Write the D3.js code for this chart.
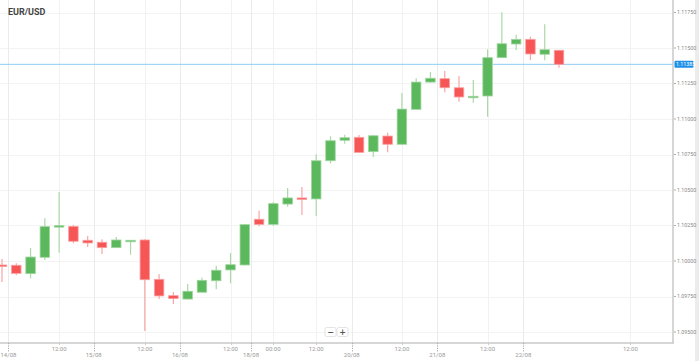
<!DOCTYPE html>
<html><head><meta charset="utf-8">
<script src="https://cdn.jsdelivr.net/npm/d3@7"></script>
<style>html,body{margin:0;padding:0;background:#fff;}svg{display:block;}</style>
</head><body>
<svg id="chart" width="699" height="361"></svg>
<script>
const title = "EUR/USD";
const candleIndex = d3.range(40);
const opens  = [1.09972,1.09970,1.09911,1.10026,1.10239,1.10244,1.10146,1.10132,1.10094,1.10141,
                1.10148,1.09871,1.09756,1.09732,1.09780,1.09861,1.09937,1.09972,1.10294,1.10258,
                1.10401,1.10444,1.10437,1.10706,1.10850,1.10871,1.10770,1.10880,1.10822,1.11068,
                1.11260,1.11284,1.11220,1.11156,1.11162,1.11432,1.11528,1.11561,1.11456,1.11484];
const closes = [1.09968,1.09913,1.10028,1.10242,1.10249,1.10139,1.10127,1.10094,1.10148,1.10146,
                1.09868,1.09754,1.09735,1.09787,1.09864,1.09935,1.09974,1.10256,1.10258,1.10404,
                1.10444,1.10433,1.10706,1.10847,1.10868,1.10765,1.10882,1.10822,1.11070,1.11260,
                1.11287,1.11220,1.11155,1.11160,1.11432,1.11530,1.11561,1.11458,1.11488,1.11385];
const highs  = [1.10014,1.09984,1.10092,1.10301,1.10486,1.10254,1.10176,1.10153,1.10169,1.10148,
                1.10153,1.09906,1.09782,1.09838,1.09882,1.09967,1.10056,1.10261,1.10354,1.10415,
                1.10514,1.10521,1.10751,1.10878,1.10889,1.10887,1.10887,1.10903,1.11183,1.11287,
                1.11331,1.11338,1.11303,1.11275,1.11491,1.11751,1.11594,1.11580,1.11667,1.11486];
const lows   = [1.09852,1.09899,1.09878,1.10007,1.10058,1.10125,1.10099,1.10049,1.10092,1.10044,
                1.09507,1.09732,1.09697,1.09729,1.09779,1.09801,1.09843,1.09968,1.10244,1.10249,
                1.10382,1.10324,1.10317,1.10688,1.10826,1.10761,1.10732,1.10765,1.10820,1.11067,
                1.11256,1.11188,1.11122,1.11115,1.11016,1.11430,1.11486,1.11415,1.11413,1.11361];
const yTicks = [1.09500,1.09750,1.10000,1.10250,1.10500,1.10750,1.11000,1.11250,1.11500,1.11750];
const dateTickPos    = [0.45, 6.42, 12.46, 17.44, 24.49, 30.48, 36.5];
const dateTickLabels = ["14/08","15/08","16/08","18/08","20/08","21/08","22/08"];
const timeTickPos    = [4, 10, 16, 18.98, 22, 28, 34, 44];
const timeTickLabels = ["12:00","12:00","12:00","00:00","12:00","12:00","12:00","12:00"];
const lastPrice = closes[closes.length - 1];

const svg = d3.select("#chart");
const plotRight = 673, plotBottom = 343;
const x = d3.scaleLinear().domain([0, 39]).range([2, 559]);
const y = d3.scaleLinear().domain([1.095, 1.1175]).range([332, 12.5]);

// right edge strip
svg.append("rect").attr("x", 695).attr("y", 0).attr("width", 4).attr("height", 361).attr("fill", "#ececec");

const grid = svg.append("g");
// horizontal gridlines
grid.selectAll("line.h").data(yTicks).join("line")
  .attr("x1", 0).attr("x2", plotRight)
  .attr("y1", d => Math.round(y(d)) + 0.5).attr("y2", d => Math.round(y(d)) + 0.5)
  .attr("stroke", "#f3f3f3").attr("stroke-width", 1);
// vertical gridlines
grid.selectAll("line.t").data(timeTickPos).join("line")
  .attr("x1", d => Math.round(x(d)) + 0.5).attr("x2", d => Math.round(x(d)) + 0.5)
  .attr("y1", 0).attr("y2", plotBottom)
  .attr("stroke", "#f2f2f2").attr("stroke-width", 1);
grid.selectAll("line.d").data(dateTickPos).join("line")
  .attr("x1", d => Math.round(x(d)) + 0.5).attr("x2", d => Math.round(x(d)) + 0.5)
  .attr("y1", 0).attr("y2", plotBottom)
  .attr("stroke", "#ebebeb").attr("stroke-width", 1);

// price line
svg.append("line").attr("x1", 0).attr("x2", plotRight)
  .attr("y1", y(lastPrice)).attr("y2", y(lastPrice))
  .attr("stroke", "#8dcdf3").attr("stroke-width", 1);

// candles
const green = "#5cb85c", red = "#f75656";
const cg = svg.append("g");
const candles = candleIndex.map(i => ({i, o: opens[i], c: closes[i], h: highs[i], l: lows[i]}));
cg.selectAll("line.wick").data(candles).join("line")
  .attr("x1", d => x(d.i)).attr("x2", d => x(d.i))
  .attr("y1", d => y(d.h)).attr("y2", d => y(d.l))
  .attr("stroke", d => d.c >= d.o ? "#a9d9a9" : "#f8a5a5").attr("stroke-width", 1.2);
const bw = 9.5;
cg.selectAll("rect.body").data(candles).join("rect")
  .attr("x", d => x(d.i) - bw / 2)
  .attr("y", d => y(Math.max(d.o, d.c)))
  .attr("width", bw)
  .attr("height", d => Math.max(1.5, Math.abs(y(d.o) - y(d.c))))
  .attr("fill", d => d.c >= d.o ? green : red)
  .attr("stroke", d => d.c >= d.o ? "#9fd69f" : "#fba0a0").attr("stroke-width", 0.8);

// axes lines
svg.append("line").attr("x1", 0).attr("x2", plotRight + 1).attr("y1", plotBottom).attr("y2", plotBottom)
  .attr("stroke", "#c8c8c8").attr("stroke-width", 1.5);
svg.append("line").attr("x1", plotRight).attr("x2", plotRight).attr("y1", 0).attr("y2", plotBottom)
  .attr("stroke", "#c8c8c8").attr("stroke-width", 1.5);

// right axis labels
const ya = svg.append("g");
ya.selectAll("line").data(yTicks).join("line")
  .attr("x1", plotRight + 1).attr("x2", plotRight + 3)
  .attr("y1", d => y(d)).attr("y2", d => y(d)).attr("stroke", "#999").attr("stroke-width", 0.8);
ya.selectAll("text").data(yTicks).join("text")
  .attr("x", plotRight + 4).attr("y", d => y(d)).attr("dy", "0.35em")
  .attr("font-family", "Roboto, 'DejaVu Sans', sans-serif").attr("font-size", 5.3)
  .attr("fill", "#888").text(d => d.toFixed(5));

// price tag
svg.append("rect").attr("x", plotRight + 1.5).attr("y", y(lastPrice) - 3.5)
  .attr("width", 19).attr("height", 7).attr("rx", 1).attr("fill", "#1e90e8");
svg.append("text").attr("x", plotRight + 3).attr("y", y(lastPrice)).attr("dy", "0.35em")
  .attr("font-family", "Roboto, 'DejaVu Sans', sans-serif").attr("font-size", 5.3)
  .attr("fill", "#fff").text(lastPrice.toFixed(5));

// bottom axis
const xa = svg.append("g");
xa.selectAll("line.dt").data(dateTickPos).join("line")
  .attr("x1", d => Math.round(x(d)) + 0.5).attr("x2", d => Math.round(x(d)) + 0.5)
  .attr("y1", plotBottom).attr("y2", plotBottom + 9)
  .attr("stroke", "#aaa").attr("stroke-width", 1).attr("stroke-dasharray", "1.2,1.2");
xa.selectAll("line.tt").data(timeTickPos).join("line")
  .attr("x1", d => Math.round(x(d)) + 0.5).attr("x2", d => Math.round(x(d)) + 0.5)
  .attr("y1", plotBottom).attr("y2", plotBottom + 2)
  .attr("stroke", "#ccc").attr("stroke-width", 1);
xa.selectAll("text.dt").data(dateTickPos).join("text")
  .attr("x", d => x(d)).attr("y", 357).attr("text-anchor", "middle")
  .attr("font-family", "Roboto, 'DejaVu Sans', sans-serif").attr("font-size", 6)
  .attr("fill", "#999").text((d, k) => dateTickLabels[k]);
xa.selectAll("text.tt").data(timeTickPos).join("text")
  .attr("x", d => x(d)).attr("y", 351).attr("text-anchor", "middle")
  .attr("font-family", "Roboto, 'DejaVu Sans', sans-serif").attr("font-size", 6)
  .attr("fill", "#999").text((d, k) => timeTickLabels[k]);

// title
svg.append("text").attr("x", 8).attr("y", 15).attr("font-family", "Roboto, 'DejaVu Sans', sans-serif")
  .attr("font-size", 9).attr("font-weight", "bold").attr("fill", "#444").text(title);

// zoom buttons
const zb = svg.append("g");
[["−", 325], ["+", 337]].forEach(([s, bx]) => {
  zb.append("rect").attr("x", bx).attr("y", 327.5).attr("width", 11).attr("height", 9).attr("rx", 1.5)
    .attr("fill", "#fff").attr("stroke", "#ddd").attr("stroke-width", 0.8);
  zb.append("text").attr("x", bx + 5.5).attr("y", 334.5).attr("text-anchor", "middle")
    .attr("font-family", "'DejaVu Sans', sans-serif").attr("font-size", 8).attr("font-weight", "bold")
    .attr("fill", "#555").text(s);
});
</script>
</body></html>
